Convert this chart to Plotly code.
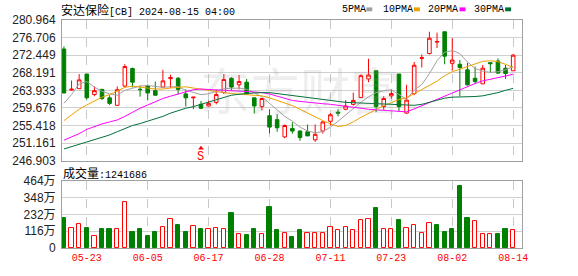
import plotly.graph_objects as go

# ---- data ----
bar_idx = list(range(60))
tick_pos = [3, 11, 19, 27, 35, 43, 51, 59]
tick_labels = ["05-23", "06-05", "06-17", "06-28", "07-11", "07-23", "08-02", "08-14"]

opens = [273.93, 264.0, 264.33, 267.88, 262.91, 264.17, 262.12, 260.31, 264.96, 269.22,
         264.2, 264.96, 263.86, 264.72, 266.77, 266.85, 263.07, 262.12, 260.54, 260.15,
         261.02, 263.38, 266.85, 265.27, 265.91, 262.12, 260.0, 257.79, 256.84, 252.66,
         254.71, 254.08, 253.92, 251.95, 254.08, 256.44, 258.65, 259.36, 260.54, 262.20,
         266.69, 268.67, 260.0, 262.59, 267.88, 258.42, 263.15, 271.66, 272.84, 275.60,
         278.12, 270.47, 270.24, 268.90, 266.85, 265.51, 270.64, 271.03, 269.30, 268.67]
highs = [274.58, 266.3, 267.88, 267.88, 264.88, 264.25, 262.75, 264.88, 270.24, 269.45,
         265.1, 265.35, 266.06, 268.90, 267.72, 267.17, 264.17, 262.28, 261.33, 261.41,
         264.09, 267.88, 267.09, 267.64, 266.69, 262.12, 261.96, 259.36, 258.18, 255.66,
         256.21, 254.24, 255.66, 255.66, 256.44, 258.42, 259.36, 261.57, 263.38, 267.80,
         271.58, 268.67, 262.51, 264.17, 267.88, 265.27, 270.79, 272.61, 278.12, 277.89,
         278.12, 276.55, 271.27, 270.64, 269.69, 270.08, 270.64, 271.66, 270.08, 272.77]
lows = [263.2, 263.85, 264.25, 261.73, 262.52, 261.57, 260.39, 260.31, 264.72, 264.64,
        262.4, 261.57, 262.67, 264.64, 264.49, 262.91, 260.0, 259.36, 259.36, 260.0,
        260.54, 263.07, 263.94, 264.17, 262.99, 258.34, 259.05, 253.53, 253.92, 252.34,
        253.45, 251.71, 252.90, 251.48, 253.45, 255.42, 257.63, 259.12, 260.23, 262.04,
        265.91, 258.65, 259.2, 261.96, 258.81, 258.26, 262.75, 269.45, 272.61, 274.18,
        270.24, 268.67, 262.51, 265.12, 265.51, 265.51, 268.27, 267.88, 266.69, 268.67]
closes = [263.30, 264.2, 266.46, 262.12, 263.86, 261.96, 260.78, 264.09, 269.69, 265.91,
          264.1, 263.30, 262.75, 266.22, 267.01, 264.17, 262.12, 262.28, 259.59, 260.78,
          262.91, 266.54, 264.72, 266.06, 263.07, 260.15, 261.96, 255.03, 254.87, 255.42,
          254.08, 252.50, 252.90, 253.29, 256.29, 258.02, 258.42, 260.15, 261.49, 267.48,
          267.64, 260.0, 261.96, 263.15, 260.0, 261.57, 270.01, 271.82, 276.55, 275.76,
          272.21, 271.27, 269.45, 265.27, 266.06, 269.30, 270.4, 268.11, 268.0, 272.45]

ma5 = [260.78, 262.91, 265.51, 266.06, 264.72, 263.70, 263.07, 262.75, 263.94, 264.49,
       264.96, 265.12, 264.96, 264.65, 264.80, 264.80, 263.94, 263.38, 262.91, 263.07,
       263.70, 264.33, 264.41, 264.49, 264.17, 263.38, 262.36, 260.78, 259.21, 257.63,
       256.45, 255.03, 254.08, 253.69, 253.92, 255.03, 256.45, 258.02, 259.44, 261.02,
       262.36, 263.38, 263.86, 264.01, 262.91, 261.81, 263.94, 265.35, 267.96, 271.11,
       273.16, 273.55, 272.84, 270.79, 269.22, 268.59, 268.27, 268.43, 268.90, 269.69]
ma10 = [256.60, 258.02, 259.36, 260.39, 261.33, 262.28, 262.91, 263.70, 264.65, 264.96,
        264.80, 264.49, 264.25, 264.25, 264.49, 264.65, 264.80, 264.49, 264.17, 263.86,
        263.62, 263.38, 263.15, 262.99, 262.91, 262.75, 262.60, 262.12, 261.49, 260.94,
        260.23, 259.36, 258.42, 257.47, 256.60, 255.81, 255.18, 255.42, 256.29, 257.39,
        258.34, 259.21, 260.23, 260.94, 261.73, 262.12, 263.15, 264.17, 265.28, 266.14,
        267.48, 268.43, 269.06, 269.69, 270.40, 270.95, 271.11, 270.87, 270.24, 269.45]
ma20 = [251.87, 252.66, 253.45, 254.47, 255.18, 255.81, 256.29, 256.76, 257.63, 258.65,
        259.60, 260.39, 261.18, 261.96, 262.52, 263.07, 263.70, 264.09, 264.25, 264.17,
        264.01, 263.86, 263.78, 263.70, 263.62, 263.54, 263.38, 263.07, 262.52, 261.96,
        261.49, 261.25, 261.02, 260.86, 260.70, 260.55, 260.31, 259.99, 259.68, 259.52,
        259.36, 259.21, 259.05, 258.97, 258.89, 258.73, 259.44, 260.23, 261.02, 261.81,
        262.60, 263.38, 264.17, 264.96, 265.59, 266.22, 266.69, 267.01, 267.40, 267.88]
ma30 = [249.74, 250.30, 250.93, 251.56, 252.03, 252.58, 253.13, 253.92, 254.71, 255.42,
        255.89, 256.45, 256.92, 257.63, 258.42, 259.05, 259.60, 259.99, 260.55, 261.02,
        261.57, 262.28, 262.75, 262.99, 263.23, 263.30, 263.38, 263.38, 263.15, 262.91,
        262.60, 262.36, 262.12, 261.89, 261.65, 261.41, 261.18, 261.02, 260.94, 260.86,
        260.78, 260.70, 260.62, 260.55, 260.39, 260.23, 260.31, 260.55, 261.10, 261.57,
        262.04, 262.28, 262.28, 262.28, 262.44, 262.60, 262.91, 263.38, 263.94, 264.41]

# volume in 万 ; direction flag as shown (1 = red/up, 0 = green/down)
volume = [208, 141, 168, 141, 85, 128, 134, 134, 316, 108,
          134, 81, 108, 146, 199, 161, 108, 152, 134, 128,
          141, 134, 242, 94, 87, 128, 94, 282, 121, 105,
          74, 121, 101, 105, 101, 146, 125, 148, 125, 197,
          202, 276, 128, 128, 197, 141, 161, 101, 175, 161,
          108, 128, 430, 208, 188, 94, 94, 94, 134, 124.17]
vol_up = [0, 1, 1, 0, 1, 0, 0, 1, 1, 0,
          0, 0, 0, 1, 1, 0, 0, 1, 0, 1,
          1, 1, 0, 1, 0, 0, 1, 0, 0, 1,
          0, 0, 1, 1, 1, 1, 1, 1, 1, 1,
          1, 0, 1, 1, 0, 1, 1, 1, 1, 0,
          0, 0, 0, 0, 1, 1, 1, 0, 0, 1]

price_ticks = [246.903, 251.161, 255.418, 259.676, 263.933, 268.191, 272.449, 276.706, 280.964]
price_tick_text = ["246.903", "251.161", "255.418", "259.676", "263.933",
                   "268.191", "272.449", "276.706", "280.964"]
vol_ticks = [0, 116, 232, 348, 464]
vol_tick_text = ["0", "116万", "232万", "348万", "464万"]

title_name = "安达保险"
title_rest = "[CB] 2024-08-15 04:00"
vol_title = "成交量"
last_volume = "1241686"
ma_names = ["5PMA", "10PMA", "20PMA", "30PMA"]
ma_colors = ["#a0a0a0", "#f0a000", "#ff00ff", "#00703a"]

RED = "#ff0000"
GREEN = "#008000"
W, H = 578, 276
ML, MR, MT, MB = 58, 56, 20, 21
PW = W - ML - MR
PH = H - MT - MB


def px(xp):
    return (xp - ML) / PW


def py(yp):
    return (H - MB - yp) / PH


fig = go.Figure()

fig.add_trace(go.Candlestick(
    x=bar_idx, open=opens, high=highs, low=lows, close=closes,
    xaxis="x", yaxis="y",
    increasing=dict(line=dict(color=RED, width=1), fillcolor="white"),
    decreasing=dict(line=dict(color=GREEN, width=1), fillcolor=GREEN),
    whiskerwidth=0, showlegend=False, hoverinfo="skip",
))

for vals, col in zip([ma5, ma10, ma20, ma30], ma_colors):
    fig.add_trace(go.Scatter(x=bar_idx, y=vals, mode="lines",
                             line=dict(color=col, width=1),
                             xaxis="x", yaxis="y", showlegend=False, hoverinfo="skip"))

# signal marker "S"
fig.add_trace(go.Scatter(x=[18], y=[249.9], mode="markers",
                         marker=dict(symbol="triangle-up", size=5, color=RED),
                         xaxis="x", yaxis="y", showlegend=False, hoverinfo="skip"))

fig.add_trace(go.Bar(
    x=bar_idx, y=volume, width=0.56,
    marker=dict(color=["white" if u else GREEN for u in vol_up],
                line=dict(color=[RED if u else GREEN for u in vol_up], width=1)),
    xaxis="x2", yaxis="y2", showlegend=False, hoverinfo="skip",
))

xr = [-0.255, 60.16]
axis_common = dict(showline=True, mirror=True, linecolor="#a0a0a0", linewidth=1,
                   zeroline=False, ticks="")
fig.update_layout(
    width=W, height=H,
    margin=dict(l=ML, r=MR, t=MT, b=MB, pad=0),
    paper_bgcolor="white", plot_bgcolor="white",
    boxgap=0.33, bargap=0,
    xaxis=dict(domain=[0, 1], anchor="y", range=xr, tickvals=tick_pos,
               showticklabels=False, showgrid=True, gridcolor="#c8c8c8",
               griddash="dash", rangeslider=dict(visible=False), **axis_common),
    yaxis=dict(domain=[py(165), 1], anchor="x", range=[price_ticks[0], price_ticks[-1]],
               tickvals=price_ticks, ticktext=price_tick_text, showgrid=True,
               gridcolor="#d0d0d0", ticklabelstandoff=3,
               tickfont=dict(family="Liberation Sans, Noto Sans CJK SC", size=12, color="#222"),
               **axis_common),
    xaxis2=dict(domain=[0, 1], anchor="y2", range=xr, tickvals=tick_pos,
                ticktext=tick_labels, showgrid=True, gridcolor="#c8c8c8", griddash="dash",
                tickfont=dict(family="Liberation Mono", size=10, color=RED),
                **axis_common),
    yaxis2=dict(domain=[0, py(186)], anchor="x2", range=[0, 464], tickvals=vol_ticks,
                ticktext=vol_tick_text, showgrid=True, gridcolor="#d0d0d0",
                ticklabelstandoff=3,
                tickfont=dict(family="Liberation Sans, Noto Sans CJK SC", size=12, color="#222"),
                **axis_common),
    font=dict(family="Liberation Mono, Noto Sans CJK SC", size=10, color="black"),
)

cjk = "font-family:Noto Sans CJK SC;font-size:12px"
ann = []
ann.append(dict(xref="paper", yref="paper", x=px(55), y=py(9), xanchor="left", yanchor="middle",
                text=f'<span style="{cjk}">{title_name}</span>{title_rest}', showarrow=False,
                font=dict(family="Liberation Mono", size=10, color="black")))
ann.append(dict(xref="paper", yref="paper", x=px(57), y=py(177), xanchor="left", yanchor="middle",
                text=f'<span style="{cjk}">{vol_title}</span>:{last_volume}', showarrow=False,
                font=dict(family="Liberation Mono", size=10, color="black")))
legend_x = [338, 380, 425, 472]
square_x = [365, 413, 459, 505]
shapes = []
for name, col, lx, sx in zip(ma_names, ma_colors, legend_x, square_x):
    ann.append(dict(xref="paper", yref="paper", x=px(lx), y=py(9), xanchor="left",
                    yanchor="middle", text=name, showarrow=False,
                    font=dict(family="Liberation Mono", size=10, color="black")))
    shapes.append(dict(type="rect", xref="paper", yref="paper", x0=px(sx), x1=px(sx + 6),
                       y0=py(11), y1=py(7), fillcolor=col, line=dict(width=0)))
ann.append(dict(xref="x", yref="y", x=18, y=247.8, text="S", showarrow=False,
                font=dict(family="Liberation Mono", size=12, color=RED)))
ann.append(dict(xref="paper", yref="paper", x=px(298), y=py(90), xanchor="center",
                yanchor="middle", text="东方财富", showarrow=False,
                font=dict(family="Noto Sans CJK SC", size=50, color="rgba(150,150,150,0.16)")))
fig.update_layout(annotations=ann, shapes=shapes)

fig.write_html("out.html")
